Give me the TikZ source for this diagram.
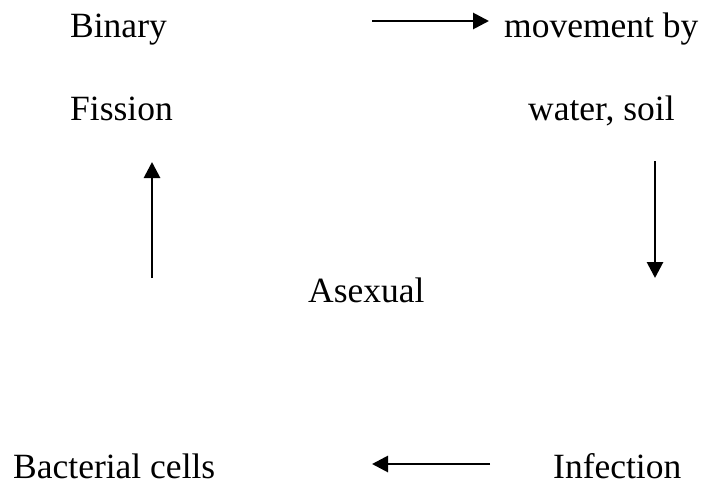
\documentclass[tikz,border=0pt]{standalone}
\usepackage{fontspec}
\setmainfont{Liberation Serif}
\usetikzlibrary{arrows.meta}
\begin{document}
\begin{tikzpicture}[x=1pt,y=-1pt,
  lbl/.style={anchor=base west,inner sep=0pt,font=\fontsize{35.5}{40}\selectfont},
  arr/.style={line width=2.8pt,-{Triangle[length=16pt,width=16pt]}}]
\useasboundingbox (0,0) rectangle (706,485);
\node[lbl] (binary) at (70,37) {Binary};
\node[lbl] (fission) at (70,120) {Fission};
\node[lbl] (movement) at (504,37) {movement by};
\node[lbl] (water) at (528,120) {water, soil};
\node[lbl] (asexual) at (308,302) {Asexual};
\node[lbl] (bacterial) at (13,478) {Bacterial cells};
\node[lbl] (infection) at (553,478) {Infection};
\coordinate (t1) at (372,21);
\coordinate (t2) at (489,21);
\coordinate (l1) at (152,278);
\coordinate (l2) at (152,162);
\coordinate (r1) at (655,161);
\coordinate (r2) at (655,278);
\coordinate (b1) at (490,464);
\coordinate (b2) at (372,464);
\draw[arr] (t1) -- (t2);
\draw[arr] (l1) -- (l2);
\draw[arr] (r1) -- (r2);
\draw[arr] (b1) -- (b2);
\end{tikzpicture}
\end{document}
